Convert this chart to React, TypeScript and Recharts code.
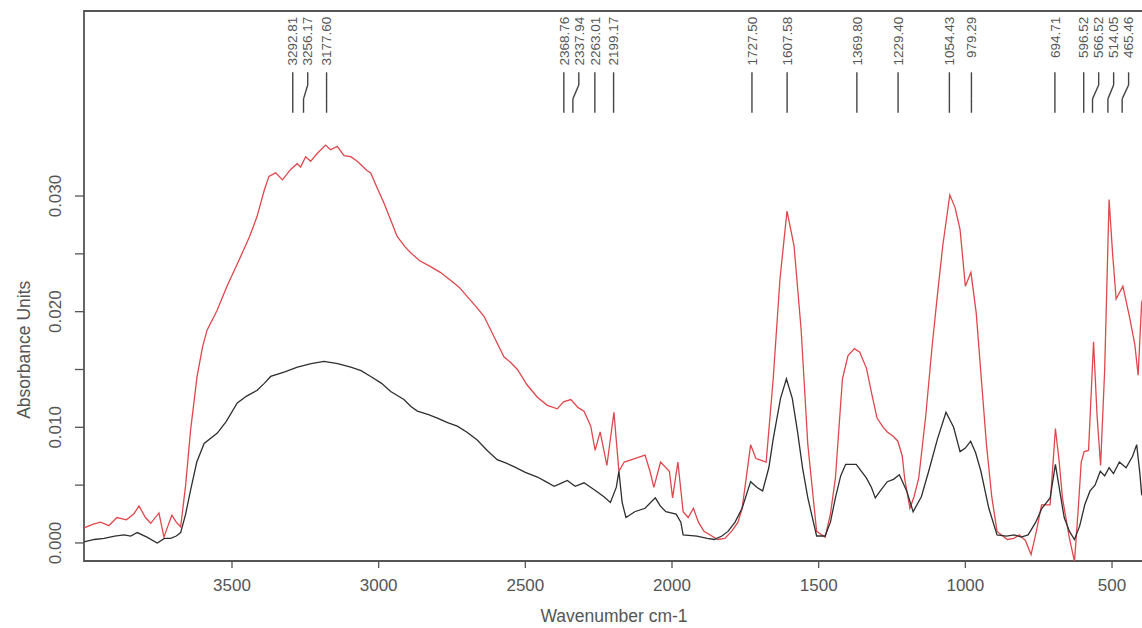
import React from 'react';
import { LineChart, Line, XAxis, YAxis, ReferenceArea, ReferenceLine, ReferenceDot } from 'recharts';

// spectrum, wavenumber (cm-1) / absorbance pairs
const redWavenumber = [
  4004, 3975, 3948, 3920, 3892, 3860, 3835, 3817, 3795, 3777, 3749, 3732, 3718, 3705, 3690, 3675,
  3658, 3641, 3619, 3600, 3585, 3551, 3517, 3470, 3440, 3415, 3390, 3374, 3351, 3328, 3300, 3278,
  3266, 3249, 3232, 3209, 3181, 3164, 3141, 3118, 3095, 3073, 3040, 3027, 3005, 2982, 2960, 2937,
  2910, 2891, 2860, 2823, 2790, 2754, 2725, 2698, 2670, 2641, 2610, 2573, 2550, 2527, 2495, 2459,
  2425, 2391, 2370, 2345, 2320, 2300, 2277, 2262, 2245, 2222, 2198, 2181, 2163, 2127, 2092, 2075,
  2062, 2039, 2009, 1998, 1980, 1962, 1945, 1927, 1910, 1891, 1844, 1820, 1797, 1775, 1761, 1745,
  1732, 1714, 1679, 1655, 1632, 1608, 1584, 1560, 1537, 1507, 1478, 1460, 1443, 1419, 1400, 1378,
  1360, 1337, 1320, 1301, 1280, 1266, 1245, 1230, 1215, 1207, 1189, 1175, 1159, 1135, 1113, 1095,
  1077, 1053, 1035, 1018, 1000, 981, 963, 945, 928, 910, 892, 857, 835, 816, 795, 776,
  758, 740, 711, 693, 680, 669, 646, 628, 615, 605, 595, 580, 563, 551, 539, 525,
  510, 498, 486, 463, 440, 422, 411, 399, 391,
];
const redAbsorbance = [
  0.0013, 0.0016, 0.0018, 0.0015, 0.0022, 0.0020, 0.0025, 0.0032, 0.0022, 0.0017, 0.0026, 0.0005, 0.0015, 0.0024, 0.0018, 0.0014,
  0.0050, 0.0098, 0.0144, 0.0170, 0.0184, 0.0201, 0.0222, 0.0248, 0.0265, 0.0282, 0.0305, 0.0317, 0.0320, 0.0314, 0.0323, 0.0328,
  0.0325, 0.0334, 0.0330, 0.0337, 0.0344, 0.0340, 0.0343, 0.0335, 0.0334, 0.0330, 0.0322, 0.0320, 0.0307, 0.0294, 0.0280, 0.0265,
  0.0256, 0.0251, 0.0244, 0.0239, 0.0234, 0.0227, 0.0221, 0.0213, 0.0205, 0.0196, 0.0180, 0.0161, 0.0156, 0.0150, 0.0137, 0.0126,
  0.0119, 0.0116, 0.0122, 0.0124, 0.0117, 0.0114, 0.0101, 0.0080, 0.0096, 0.0067, 0.0113, 0.0062, 0.0070, 0.0073, 0.0076, 0.0062,
  0.0048, 0.0070, 0.0062, 0.0039, 0.0070, 0.0027, 0.0022, 0.0030, 0.0018, 0.0010, 0.0003, 0.0004, 0.0010, 0.0018, 0.0030, 0.0060,
  0.0085, 0.0073, 0.0070, 0.0142, 0.0228, 0.0287, 0.0257, 0.0185, 0.0085, 0.0010, 0.0005, 0.0025, 0.0056, 0.0142, 0.0162, 0.0168,
  0.0165, 0.0151, 0.0130, 0.0108, 0.0100, 0.0096, 0.0092, 0.0088, 0.0075, 0.0056, 0.0030, 0.0040, 0.0056, 0.0110, 0.0171, 0.0215,
  0.0257, 0.0301, 0.0290, 0.0271, 0.0222, 0.0234, 0.0199, 0.0140, 0.0085, 0.0040, 0.0010, 0.0003, 0.0004, 0.0007, 0.0002, -0.0010,
  0.0010, 0.0033, 0.0033, 0.0099, 0.0070, 0.0039, 0.0005, -0.0016, 0.0030, 0.0070, 0.0079, 0.0080, 0.0174, 0.0110, 0.0067, 0.0150,
  0.0297, 0.0250, 0.0211, 0.0222, 0.0195, 0.0171, 0.0145, 0.0208, 0.0215,
];

const blackWavenumber = [
  4004, 3970, 3936, 3900, 3868, 3845, 3823, 3790, 3755, 3730, 3709, 3690, 3675, 3658, 3641, 3620,
  3595, 3550, 3520, 3482, 3450, 3414, 3390, 3368, 3320, 3277, 3230, 3186, 3140, 3095, 3060, 3027,
  2990, 2959, 2914, 2890, 2868, 2830, 2800, 2765, 2732, 2700, 2664, 2630, 2596, 2565, 2539, 2500,
  2459, 2430, 2402, 2375, 2357, 2330, 2300, 2265, 2232, 2210, 2190, 2181, 2170, 2157, 2127, 2092,
  2057, 2040, 2021, 1986, 1970, 1962, 1915, 1880, 1856, 1830, 1809, 1785, 1761, 1732, 1710, 1691,
  1670, 1655, 1630, 1610, 1590, 1572, 1555, 1537, 1507, 1478, 1460, 1443, 1425, 1408, 1372, 1337,
  1320, 1307, 1290, 1266, 1245, 1225, 1200, 1178, 1150, 1125, 1095, 1066, 1040, 1018, 1000, 982,
  965, 947, 920, 892, 860, 833, 810, 786, 760, 739, 711, 693, 675, 663, 645, 628,
  610, 593, 575, 558, 540, 525, 510, 495, 475, 452, 430, 416, 405, 399, 391,
];
const blackAbsorbance = [
  0.0001, 0.0003, 0.0004, 0.0006, 0.0007, 0.0006, 0.0009, 0.0005, 0.0000, 0.0004, 0.0004, 0.0006, 0.0009, 0.0025, 0.0046, 0.0070,
  0.0086, 0.0095, 0.0105, 0.0121, 0.0127, 0.0132, 0.0138, 0.0144, 0.0148, 0.0152, 0.0155, 0.0157, 0.0155, 0.0152, 0.0149, 0.0144,
  0.0138, 0.0131, 0.0124, 0.0118, 0.0114, 0.0111, 0.0108, 0.0104, 0.0101, 0.0096, 0.0089, 0.0080, 0.0072, 0.0069, 0.0066, 0.0061,
  0.0057, 0.0053, 0.0049, 0.0052, 0.0054, 0.0049, 0.0052, 0.0046, 0.0040, 0.0035, 0.0048, 0.0062, 0.0035, 0.0022, 0.0027, 0.0030,
  0.0039, 0.0032, 0.0027, 0.0025, 0.0018, 0.0007, 0.0006, 0.0004, 0.0003, 0.0006, 0.0010, 0.0018, 0.0030, 0.0053, 0.0048, 0.0045,
  0.0065, 0.0090, 0.0125, 0.0142, 0.0125, 0.0096, 0.0065, 0.0039, 0.0006, 0.0006, 0.0018, 0.0039, 0.0058, 0.0068, 0.0068, 0.0056,
  0.0048, 0.0039, 0.0045, 0.0053, 0.0055, 0.0059, 0.0045, 0.0027, 0.0040, 0.0062, 0.0090, 0.0113, 0.0100, 0.0079, 0.0082, 0.0088,
  0.0078, 0.0062, 0.0030, 0.0007, 0.0006, 0.0007, 0.0005, 0.0007, 0.0018, 0.0030, 0.0039, 0.0068, 0.0040, 0.0022, 0.0010, 0.0003,
  0.0015, 0.0033, 0.0045, 0.0050, 0.0062, 0.0058, 0.0065, 0.0060, 0.0070, 0.0065, 0.0075, 0.0085, 0.0060, 0.0042, 0.0040,
];

const peakWavenumbers = [
  3292.81, 3256.17, 3177.6, 2368.76, 2337.94, 2263.01, 2199.17, 1727.5, 1607.58,
  1369.8, 1229.4, 1054.43, 979.29, 694.71, 596.52, 566.52, 514.05, 465.46,
];

const xTicks = [3500, 3000, 2500, 2000, 1500, 1000, 500];
const yTicks = [0, 0.005, 0.01, 0.015, 0.02, 0.025, 0.03];

const X_DOMAIN: [number, number] = [391, 4004.5];
const Y_DOMAIN: [number, number] = [-0.00156, 0.046];

// heights (in absorbance units) of the peak-label pieces above the spectrum
const LABEL_TOP = 0.0455;
const LEADER_TOP = 0.0407;
const BEND_TOP = 0.0396;
const BEND_BOTTOM = 0.0384;
const LEADER_BOTTOM = 0.0372;
const MIN_GAP = 51; // cm-1 between neighbouring labels

const FONT = '"Liberation Sans", Arial, Helvetica, sans-serif';
const TEXT = '#555';

const redData = redWavenumber.map((w, i) => ({ w, a: redAbsorbance[i] }));
const blackData = blackWavenumber.map((w, i) => ({ w, a: blackAbsorbance[i] }));

// push labels right so that they don't overlap (axis runs high -> low)
let prev = Infinity;
const peaks = [...peakWavenumbers]
  .sort((a, b) => b - a)
  .map((w) => {
    const shown = Math.min(w, prev - MIN_GAP);
    prev = shown;
    return { w, shown };
  });

const YTick = (props: any) => {
  const { x, y, payload } = props;
  const v = payload.value;
  if (Math.round(v * 1000) % 10 !== 0) return <g />;
  const bx = x - 12;
  return (
    <text
      x={bx}
      y={y}
      transform={`rotate(-90 ${bx} ${y})`}
      textAnchor="middle"
      fill={TEXT}
      fontSize={17}
      fontFamily={FONT}
    >
      {v.toFixed(3)}
    </text>
  );
};

const YTitle = (props: any) => {
  const vb = props.viewBox;
  const x = vb.x + 30;
  const y = vb.y + vb.height * 0.616;
  return (
    <text
      x={x}
      y={y}
      transform={`rotate(-90 ${x} ${y})`}
      textAnchor="middle"
      fill={TEXT}
      fontSize={17.5}
      fontFamily={FONT}
    >
      Absorbance Units
    </text>
  );
};

export default function App() {
  return (
    <div style={{ position: 'absolute', left: 0, top: 0, width: 1142, height: 628, overflow: 'hidden', background: '#fff' }}>
      <LineChart width={1144} height={628} margin={{ top: 11, right: 0, bottom: 0, left: 0 }}>
        <XAxis
          type="number"
          dataKey="w"
          domain={X_DOMAIN}
          reversed
          allowDataOverflow
          ticks={xTicks}
          height={67}
          axisLine={false}
          tickSize={7}
          tickMargin={11}
          tickLine={{ stroke: '#555', strokeWidth: 1.3 }}
          tick={{ fill: TEXT, fontSize: 17, fontFamily: FONT }}
          label={{ value: 'Wavenumber cm-1', position: 'insideBottom', offset: 6, fill: TEXT, fontSize: 17.5, fontFamily: FONT }}
        />
        <YAxis
          type="number"
          domain={Y_DOMAIN}
          allowDataOverflow
          ticks={yTicks}
          width={84}
          axisLine={false}
          tickSize={9}
          tickMargin={2}
          tickLine={{ stroke: '#555', strokeWidth: 1.3 }}
          tick={<YTick />}
          label={{ content: <YTitle /> }}
        />
        <ReferenceArea
          x1={X_DOMAIN[1]}
          x2={X_DOMAIN[0]}
          y1={Y_DOMAIN[0]}
          y2={Y_DOMAIN[1]}
          fill="none"
          stroke="#555"
          strokeWidth={1.8}
        />
        <Line
          data={redData}
          dataKey="a"
          type="linear"
          stroke="#e0474c"
          strokeWidth={1.3}
          dot={false}
          isAnimationActive={false}
        />
        <Line
          data={blackData}
          dataKey="a"
          type="linear"
          stroke="#2f2f2f"
          strokeWidth={1.3}
          dot={false}
          isAnimationActive={false}
        />
        {peaks.map((p) => (
          <ReferenceLine
            key={`lo-${p.w}`}
            segment={[{ x: p.w, y: LEADER_BOTTOM }, { x: p.w, y: BEND_BOTTOM }]}
            stroke="#444"
            strokeWidth={1.4}
          />
        ))}
        {peaks.map((p) => (
          <ReferenceLine
            key={`mid-${p.w}`}
            segment={[{ x: p.w, y: BEND_BOTTOM }, { x: p.shown, y: BEND_TOP }]}
            stroke="#444"
            strokeWidth={1.4}
          />
        ))}
        {peaks.map((p) => (
          <ReferenceLine
            key={`hi-${p.w}`}
            segment={[{ x: p.shown, y: BEND_TOP }, { x: p.shown, y: LEADER_TOP }]}
            stroke="#444"
            strokeWidth={1.4}
          />
        ))}
        {peaks.map((p) => (
          <ReferenceDot
            key={`lbl-${p.w}`}
            x={p.shown}
            y={LABEL_TOP}
            r={0}
            shape={(s: any) => (
              <text
                x={s.cx}
                y={s.cy}
                transform={`rotate(-90 ${s.cx} ${s.cy})`}
                textAnchor="end"
                dy="0.35em"
                fill={TEXT}
                fontSize={13.5}
                fontFamily={FONT}
              >
                {p.w.toFixed(2)}
              </text>
            )}
          />
        ))}
      </LineChart>
    </div>
  );
}
